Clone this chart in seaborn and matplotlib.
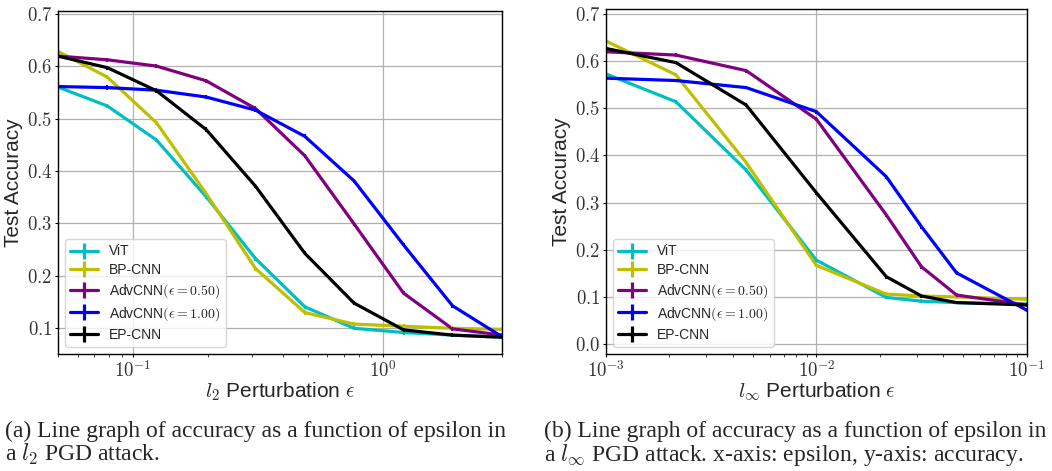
import numpy as np
import pandas as pd
import matplotlib
matplotlib.use("Agg")
import matplotlib.pyplot as plt
from matplotlib.lines import Line2D
from matplotlib.ticker import FuncFormatter, LogLocator, NullFormatter
import seaborn as sns


# ==================================
# DATA
# ==================================

models = ["ViT", "BP-CNN", "AdvCNN(0.50)", "AdvCNN(1.00)", "EP-CNN"]

legend_labels = [
    "ViT",
    "BP-CNN",
    r"AdvCNN$(\epsilon = 0.50)$",
    r"AdvCNN$(\epsilon = 1.00)$",
    "EP-CNN",
]

colors = ["#00bfbf", "#bfbf00", "#800080", "#0000ff", "#000000"]

# l2 attack
eps_l2 = [0.05, 0.0788, 0.124, 0.196, 0.309, 0.487, 0.767, 1.21, 1.90, 3.0]
vit_l2 = [0.560, 0.524, 0.459, 0.351, 0.233, 0.141, 0.100, 0.092, 0.087, 0.083]
bp_l2 = [0.628, 0.579, 0.492, 0.357, 0.214, 0.130, 0.108, 0.104, 0.100, 0.098]
adv05_l2 = [0.619, 0.612, 0.600, 0.572, 0.519, 0.429, 0.299, 0.167, 0.099, 0.087]
adv10_l2 = [0.561, 0.559, 0.554, 0.541, 0.516, 0.466, 0.381, 0.259, 0.143, 0.084]
ep_l2 = [0.619, 0.597, 0.553, 0.479, 0.371, 0.243, 0.148, 0.097, 0.087, 0.083]

# linf attack
eps_linf = [0.001, 0.00215, 0.00464, 0.01, 0.0215, 0.0316, 0.0464, 0.1]
vit_linf = [0.573, 0.514, 0.369, 0.178, 0.099, 0.091, 0.088, 0.085]
bp_linf = [0.643, 0.571, 0.385, 0.167, 0.106, 0.102, 0.100, 0.095]
adv05_linf = [0.620, 0.613, 0.580, 0.477, 0.274, 0.164, 0.104, 0.083]
adv10_linf = [0.564, 0.559, 0.544, 0.493, 0.355, 0.249, 0.151, 0.072]
ep_linf = [0.627, 0.597, 0.507, 0.321, 0.143, 0.102, 0.088, 0.083]

# small std of test accuracy
acc_err = 0.004

caption_a = ["(a) Line graph of accuracy as a function of epsilon in",
             r"a $l_2$ PGD attack."]
caption_b = ["(b) Line graph of accuracy as a function of epsilon in",
             r"a $l_\infty$ PGD attack. x-axis: epsilon, y-axis: accuracy."]


# ==================================
# STYLE
# ==================================

sns.set_style("ticks", {"axes.grid": True, "grid.color": "#b0b0b0",
                        "axes.edgecolor": "black"})
plt.rcParams["font.family"] = ["Liberation Sans", "DejaVu Sans"]
plt.rcParams["mathtext.fontset"] = "cm"

palette = dict(zip(models, colors))


def long_df(eps, series):
    rows = []
    for m, vals in zip(models, series):
        for e, v in zip(eps, vals):
            rows.append({"eps": e, "acc": v, "model": m})
    return pd.DataFrame(rows)


def draw(ax, eps, series, xlim, ylim, xlabel):
    df = long_df(eps, series)
    sns.lineplot(data=df, x="eps", y="acc", hue="model",
                 hue_order=models, palette=palette,
                 linewidth=2.3, legend=False, ax=ax)
    for m, vals in zip(models, series):
        ax.errorbar(eps, vals, yerr=acc_err, fmt="none",
                    ecolor=palette[m], elinewidth=1.5)

    ax.set_xscale("log")
    ax.set_xlim(*xlim)
    ax.set_ylim(*ylim)
    ax.xaxis.set_major_locator(LogLocator(base=10))
    ax.xaxis.set_major_formatter(FuncFormatter(
        lambda v, p: r"$10^{%d}$" % int(round(np.log10(v)))))
    ax.xaxis.set_minor_formatter(NullFormatter())
    ax.yaxis.set_major_formatter(FuncFormatter(lambda v, p: r"$%.1f$" % v))
    ax.tick_params(axis="both", which="major", labelsize=13.5,
                   length=2.5, width=0.8, pad=1.5, colors="black",
                   labelcolor="#333333")
    ax.tick_params(axis="x", which="minor", length=1.8, width=0.6)
    ax.grid(True, which="major", color="#b0b0b0", linewidth=0.9)
    ax.grid(False, which="minor")
    for s in ax.spines.values():
        s.set_linewidth(1.0)
        s.set_color("black")

    ax.set_xlabel(xlabel, fontsize=15, labelpad=0)
    ax.set_ylabel("Test Accuracy", fontsize=15, labelpad=3)

    handles = [
        Line2D([], [], color=c, linewidth=2.3, marker="|",
               markersize=12, markeredgewidth=2.3)
        for c in colors
    ]
    ax.legend(handles, legend_labels, loc="lower left", fontsize=10,
              handlelength=2.0, numpoints=1, framealpha=0.8,
              labelspacing=0.35, edgecolor="#cccccc", borderaxespad=0.5)


# ==================================
# FIGURE
# ==================================

fig = plt.figure(figsize=(10.52, 4.71), dpi=100)

ax1 = fig.add_axes([0.0551, 0.2484, 0.4221, 0.7282])
ax2 = fig.add_axes([0.5760, 0.2484, 0.4000, 0.7318])

draw(ax1, eps_l2, [vit_l2, bp_l2, adv05_l2, adv10_l2, ep_l2],
     (0.05, 3.0), (0.051, 0.705), r"$l_2$ Perturbation $\epsilon$")
draw(ax2, eps_linf, [vit_linf, bp_linf, adv05_linf, adv10_linf, ep_linf],
     (0.001, 0.1), (-0.021, 0.71), r"$l_\infty$ Perturbation $\epsilon$")
ax2.set_yticks(np.arange(0.0, 0.71, 0.1))

cap_font = ["Liberation Serif", "DejaVu Serif"]
fig.text(0.005, 0.085, caption_a[0], fontsize=17, family=cap_font, va="center")
fig.text(0.005, 0.034, caption_a[1], fontsize=17, family=cap_font, va="center")
fig.text(0.517, 0.085, caption_b[0], fontsize=17, family=cap_font, va="center")
fig.text(0.517, 0.034, caption_b[1], fontsize=17, family=cap_font, va="center")

plt.savefig("out.png", dpi=100)
